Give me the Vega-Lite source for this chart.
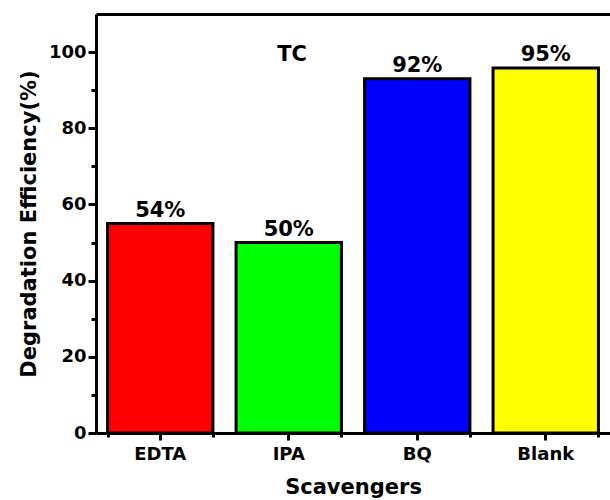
{
  "$schema": "https://vega.github.io/schema/vega-lite/v6.json",
  "autosize": "none",
  "width": 514,
  "height": 419,
  "padding": {"left": 96, "top": 14, "right": 0, "bottom": 67},
  "background": "white",
  "config": {
    "view": {"stroke": null},
    "font": "DejaVu Sans",
    "axis": {"grid": false, "domainColor": "black", "tickColor": "black", "labelColor": "black", "titleColor": "black", "labelFont": "DejaVu Sans", "titleFont": "DejaVu Sans", "labelFontWeight": "bold", "titleFontWeight": "bold"}
  },
  "title": {"text": "TC", "anchor": "middle", "dx": -61, "offset": -51, "fontSize": 21, "fontWeight": "bold", "font": "DejaVu Sans", "color": "black"},
  "data": {"values": [
    {"Scavenger": "EDTA", "Efficiency": 55, "Label": "54%"},
    {"Scavenger": "IPA", "Efficiency": 50, "Label": "50%"},
    {"Scavenger": "BQ", "Efficiency": 93, "Label": "92%"},
    {"Scavenger": "Blank", "Efficiency": 95.8, "Label": "95%"}
  ]},
  "layer": [
    {
      "mark": {"type": "bar", "stroke": "black", "strokeWidth": 3},
      "encoding": {
        "x": {"field": "Scavenger", "type": "nominal", "sort": null,
          "scale": {"paddingInner": 0.18, "paddingOuter": 0.09},
          "axis": {"orient": "bottom", "labelAngle": 0, "labelFontSize": 18, "tickSize": 7, "tickWidth": 3, "domainWidth": 3, "labelPadding": 5, "title": "Scavengers", "titleFontSize": 21, "titlePadding": 13}},
        "y": {"field": "Efficiency", "type": "quantitative",
          "scale": {"domain": [0, 110], "nice": false},
          "axis": {"orient": "left", "values": [0, 20, 40, 60, 80, 100], "labelFontSize": 18, "tickSize": 8, "tickWidth": 3, "domainWidth": 3, "labelPadding": 2, "title": "Degradation Efficiency(%)", "titleFontSize": 21, "titlePadding": 9}},
        "color": {"field": "Scavenger", "type": "nominal", "sort": null, "legend": null,
          "scale": {"domain": ["EDTA", "IPA", "BQ", "Blank"], "range": ["#ff0000", "#00ff00", "#0000ff", "#ffff00"]}}
      }
    },
    {
      "mark": {"type": "text", "baseline": "bottom", "dy": -3, "fontSize": 21, "fontWeight": "bold", "font": "DejaVu Sans", "color": "black"},
      "encoding": {
        "x": {"field": "Scavenger", "type": "nominal", "sort": null,
          "axis": {"orient": "bottom", "tickBand": "extent", "labels": false, "domain": false, "tickSize": 4, "tickWidth": 3, "title": null}},
        "y": {"field": "Efficiency", "type": "quantitative",
          "axis": {"orient": "left", "values": [10, 30, 50, 70, 90], "labels": false, "domain": false, "tickSize": 5, "tickWidth": 3, "title": null}},
        "text": {"field": "Label", "type": "nominal"}
      }
    },
    {
      "mark": {"type": "text", "opacity": 0},
      "encoding": {
        "x": {"field": "Scavenger", "type": "nominal", "sort": null,
          "axis": {"orient": "top", "labels": false, "ticks": false, "domainWidth": 3, "title": null}},
        "text": {"field": "Label", "type": "nominal"}
      }
    }
  ],
  "resolve": {"axis": {"x": "independent", "y": "independent"}}
}
